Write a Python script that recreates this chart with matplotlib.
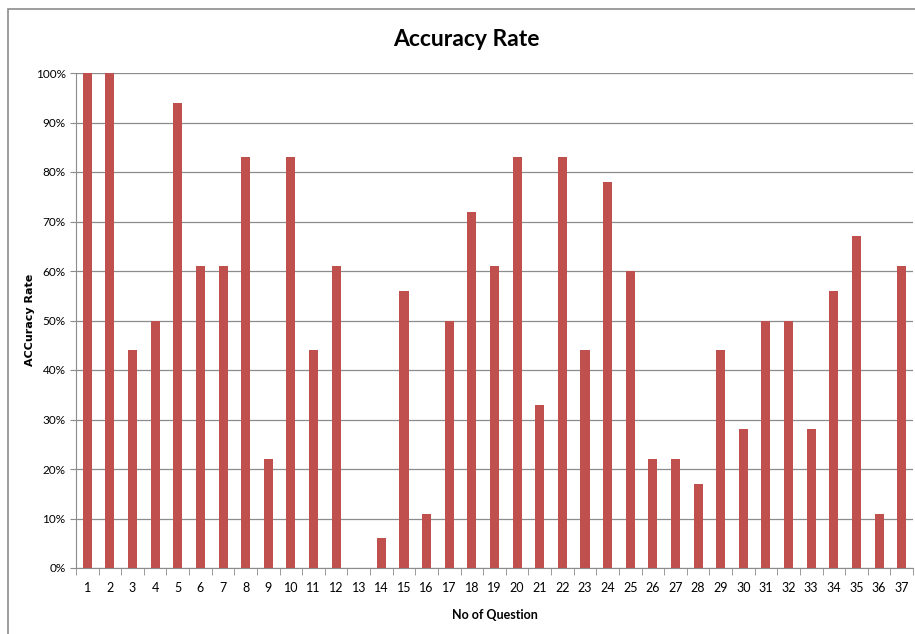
import matplotlib
matplotlib.use("Agg")
import matplotlib.pyplot as plt
from matplotlib.patches import Rectangle
from matplotlib.ticker import FixedLocator, MultipleLocator, FuncFormatter

plt.rcParams['font.family'] = ['Lato', 'DejaVu Sans']

questions = [str(i) for i in range(1, 38)]
accuracy = [100, 100, 44, 50, 94, 61, 61, 83, 22, 83, 44, 61, 0, 6, 56, 11, 50, 72,
            61, 83, 33, 83, 44, 78, 60, 22, 22, 17, 44, 28, 50, 50, 28, 56, 67, 11, 61]

bar_color = '#C0504D'

fig = plt.figure(figsize=(9.15, 6.34), dpi=100)
ax = fig.add_axes([76 / 915, 1 - 568 / 634, 837 / 915, 495 / 634])

x = list(range(len(questions)))
ax.bar(x, accuracy, width=0.4, color=bar_color, zorder=3)

ax.set_xlim(-0.5, len(questions) - 0.5)
ax.set_ylim(0, 100)
ax.yaxis.set_major_locator(MultipleLocator(10))
ax.yaxis.set_major_formatter(FuncFormatter(lambda v, p: f"{int(v)}%"))
ax.grid(axis='y', color='#8c8c8c', linewidth=0.9, zorder=0)

ax.set_xticks(x)
ax.set_xticklabels(questions, fontsize=9)
ax.tick_params(axis='x', length=0, pad=10)
ax.xaxis.set_minor_locator(FixedLocator([i - 0.5 for i in range(len(questions) + 1)]))
ax.tick_params(axis='x', which='minor', length=5, color='#8c8c8c', direction='out')
ax.tick_params(axis='y', labelsize=8.5, length=4, color='#8c8c8c', direction='out')

for side in ['top', 'right']:
    ax.spines[side].set_visible(False)
for side in ['left', 'bottom']:
    ax.spines[side].set_color('#8c8c8c')

ax.set_xlabel('No of Question', fontsize=9, fontweight='bold', labelpad=11)
fig.text(30 / 915, 1 - 320 / 634, 'ACCuracy Rate', rotation=90, fontsize=8,
         fontweight='bold', ha='center', va='center', family='DejaVu Sans')
fig.text(466 / 915, 1 - 40 / 634, 'Accuracy Rate', fontsize=16.5, fontweight='bold',
         ha='center', va='center')

fig.patches.append(Rectangle((8 / 915, -0.05), 1.2, 1 - 9 / 634 + 0.05,
                             transform=fig.transFigure, fill=False,
                             edgecolor='#8c8c8c', linewidth=1.2))

fig.savefig('out.png', dpi=100)
